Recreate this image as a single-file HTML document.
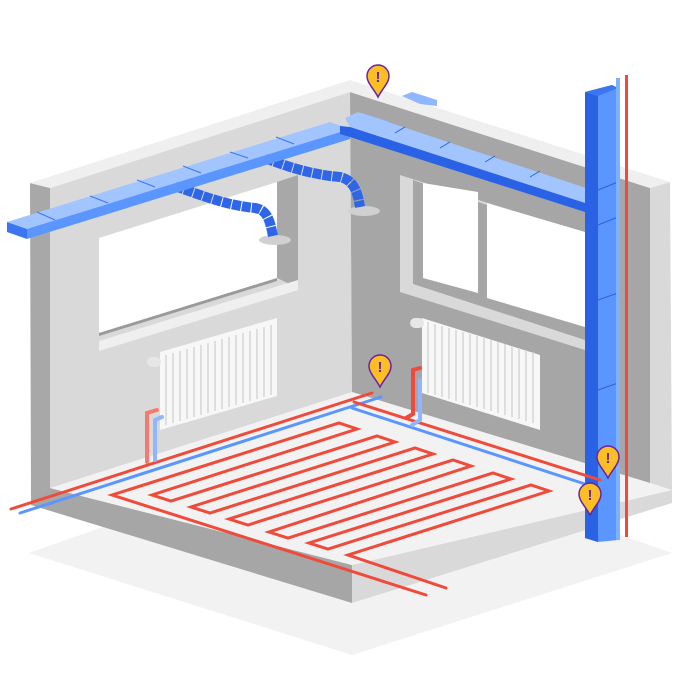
<!DOCTYPE html>
<html><head><meta charset="utf-8"><style>
html,body{margin:0;padding:0;background:#fff;width:700px;height:700px;overflow:hidden}
svg{display:block}
</style></head><body>
<svg width="700" height="700" viewBox="0 0 700 700" xmlns="http://www.w3.org/2000/svg">
<polygon points="29,553 350,440 672,553 352,655" fill="#f2f2f2"/>
<polygon points="31,480 50,488 352,565 352,603 31,505" fill="#a6a6a6"/>
<polygon points="352,565 672,490 672,503 352,603" fill="#d9d9d9"/>
<polygon points="50,488 352,392 672,490 352,565" fill="#f2f2f2"/>
<polygon points="50,188 350,92 352,392 50,488" fill="#d9d9d9"/>
<polygon points="350,92 650,188 650,483 352,392" fill="#a6a6a6"/>
<polygon points="650,188 670,182 672,490 650,483" fill="#d9d9d9"/>
<polygon points="30,183 50,188 50,488 31,500" fill="#a8a8a8"/>
<polygon points="30,183 350,80 670,182 650,188 350,92 50,188" fill="#efefef"/>

<polygon points="277,182 298,175 298,288 277,278" fill="#a8a8a8"/>
<polygon points="99,238 277,182 277,278 99,333" fill="#ffffff"/>
<polygon points="99,333 277,278 277,281 99,336" fill="#9a9a9a"/>
<polygon points="99,341 298,280 298,290 99,351" fill="#efefef"/>

<polygon points="400,175 585,234 585,350 400,292" fill="#d9d9d9"/>
<polygon points="413,180 585,238 585,340 413,284" fill="#a6a6a6"/>
<polygon points="423,183 478,192 478,293 423,278" fill="#ffffff"/>
<polygon points="487,203 585,232 585,327 487,298" fill="#ffffff"/>

<polygon points="160,352 277,318 277,396 160,430" fill="#f7f7f7"/>
<g stroke="#d6d6d6" stroke-width="1.5">
<line x1="166" y1="355" x2="166" y2="425"/><line x1="173" y1="353" x2="173" y2="423"/><line x1="180" y1="351" x2="180" y2="421"/><line x1="187" y1="349" x2="187" y2="419"/><line x1="194" y1="347" x2="194" y2="417"/><line x1="201" y1="345" x2="201" y2="415"/><line x1="208" y1="343" x2="208" y2="413"/><line x1="215" y1="341" x2="215" y2="411"/><line x1="222" y1="339" x2="222" y2="409"/><line x1="229" y1="337" x2="229" y2="407"/><line x1="236" y1="335" x2="236" y2="405"/><line x1="243" y1="333" x2="243" y2="403"/><line x1="250" y1="331" x2="250" y2="401"/><line x1="257" y1="329" x2="257" y2="399"/><line x1="264" y1="327" x2="264" y2="397"/><line x1="271" y1="325" x2="271" y2="395"/>
</g>
<rect x="147" y="357" width="14" height="10" rx="5" fill="#e6e6e6"/>
<polygon points="422,318 540,355 540,430 422,393" fill="#f7f7f7"/>
<g stroke="#d6d6d6" stroke-width="1.5">
<line x1="428" y1="322" x2="428" y2="393"/><line x1="435" y1="324" x2="435" y2="395"/><line x1="442" y1="326" x2="442" y2="397"/><line x1="449" y1="328" x2="449" y2="399"/><line x1="456" y1="330" x2="456" y2="401"/><line x1="463" y1="332" x2="463" y2="403"/><line x1="470" y1="334" x2="470" y2="405"/><line x1="477" y1="336" x2="477" y2="407"/><line x1="484" y1="338" x2="484" y2="409"/><line x1="491" y1="340" x2="491" y2="411"/><line x1="498" y1="342" x2="498" y2="413"/><line x1="505" y1="344" x2="505" y2="415"/><line x1="512" y1="346" x2="512" y2="417"/><line x1="519" y1="348" x2="519" y2="419"/><line x1="526" y1="350" x2="526" y2="421"/><line x1="533" y1="352" x2="533" y2="423"/>
</g>
<rect x="410" y="318" width="14" height="10" rx="5" fill="#e6e6e6"/>

<ellipse cx="275" cy="240" rx="16" ry="5" fill="#d0d0d0"/>
<ellipse cx="364" cy="211" rx="16" ry="5" fill="#d0d0d0"/>
<path d="M175,186 C200,195 225,205 255,208 C268,210 270,222 273,236" fill="none" stroke="#2f66e8" stroke-width="10" stroke-dasharray="9 1"/>
<path d="M265,158 C290,168 315,175 340,177 C355,180 358,195 360,207" fill="none" stroke="#2f66e8" stroke-width="10" stroke-dasharray="9 1"/>

<polygon points="7,222 27,229 350,129 330,122" fill="#a3c5ff"/>
<polygon points="27,229 27,239 350,139 350,129" fill="#5b96ff"/>
<polygon points="7,222 27,229 27,239 7,232" fill="#3b76f0"/>
<g stroke="#3b76f0" stroke-width="1">
<line x1="37" y1="212" x2="55" y2="220"/><line x1="90" y1="196" x2="108" y2="203"/><line x1="137" y1="180" x2="155" y2="187"/><line x1="183" y1="166" x2="201" y2="173"/><line x1="230" y1="152" x2="248" y2="158"/><line x1="276" y1="137" x2="294" y2="144"/>
</g>
<polygon points="402,96 412,92 437,100 437,106 420,104" fill="#8fb6ff"/>
<polygon points="352,118 362,113 388,121 388,128 370,126" fill="#8fb6ff"/>
<polygon points="345,118 358,112 592,190 585,203 350,127" fill="#a3c5ff"/>
<polygon points="340,126 350,127 585,203 585,212 350,137 340,134" fill="#2a62e6"/>
<g stroke="#2a62e6" stroke-width="1">
<line x1="395" y1="133" x2="405" y2="127"/><line x1="440" y1="148" x2="450" y2="142"/><line x1="485" y1="162" x2="495" y2="156"/><line x1="530" y1="177" x2="540" y2="171"/>
</g>
<polygon points="585,92 612,85 618,88 618,540 598,542 585,538" fill="#5b96ff"/>
<polygon points="585,92 598,96 598,542 585,538" fill="#2a62e6"/>
<polygon points="585,92 612,85 618,88 598,96" fill="#3b76f0"/>
<g stroke="#2a62e6" stroke-width="1">
<line x1="598" y1="190" x2="618" y2="182"/><line x1="598" y1="225" x2="618" y2="217"/><line x1="598" y1="300" x2="618" y2="293"/><line x1="598" y1="390" x2="618" y2="383"/>
</g>
<rect x="616" y="78" width="4" height="462" fill="#7fb0ff"/>
<rect x="625" y="75" width="3" height="462" fill="#f04a3a"/>

<g fill="none" stroke-width="3" stroke-linecap="round">
<line x1="11" y1="509" x2="372" y2="393" stroke="#f04a3a"/>
<line x1="20" y1="513" x2="381" y2="397" stroke="#5b96ff"/>
<line x1="354" y1="402" x2="600" y2="480" stroke="#f04a3a"/>
<line x1="352" y1="408" x2="588" y2="485" stroke="#5b96ff"/>
<polyline points="147,462 147,413 157,410" stroke="#f47a6e" stroke-width="4"/>
<polyline points="155,460 155,420 162,417" stroke="#8fb6ff" stroke-width="4"/>
<polyline points="406,418 413,414 413,370 420,368" stroke="#f04a3a" stroke-width="4"/>
<polyline points="412,425 420,420 420,380" stroke="#8fb6ff" stroke-width="4"/>
<polyline stroke="#f04a3a" points="426,595 112,495 339,423 357,429 152,495 171,501 377,436 395,442 191,507 210,513 415,448 433,454 229,519 248,525 453,460 471,466 269,532 288,538 493,473 511,479 309,543 328,549 531,485 549,491 348,555 446,588"/>
</g>

<g stroke="#6b21a8" stroke-width="1.5" fill="#fbbf24">
<path transform="translate(378,77)" d="M0,20 C-4,12 -11,6 -11,-1 A11,11 0 1 1 11,-1 C11,6 4,12 0,20Z"/>
<path transform="translate(380,367)" d="M0,20 C-4,12 -11,6 -11,-1 A11,11 0 1 1 11,-1 C11,6 4,12 0,20Z"/>
<path transform="translate(608,458)" d="M0,20 C-4,12 -11,6 -11,-1 A11,11 0 1 1 11,-1 C11,6 4,12 0,20Z"/>
<path transform="translate(590,495)" d="M0,20 C-4,12 -11,6 -11,-1 A11,11 0 1 1 11,-1 C11,6 4,12 0,20Z"/>
</g>
<g fill="#6b21a8" font-family="Liberation Sans, sans-serif" font-weight="bold" font-size="15" text-anchor="middle">
<text x="378" y="82">!</text><text x="380" y="372">!</text><text x="608" y="463">!</text><text x="590" y="500">!</text>
</g>
</svg>
</body></html>
